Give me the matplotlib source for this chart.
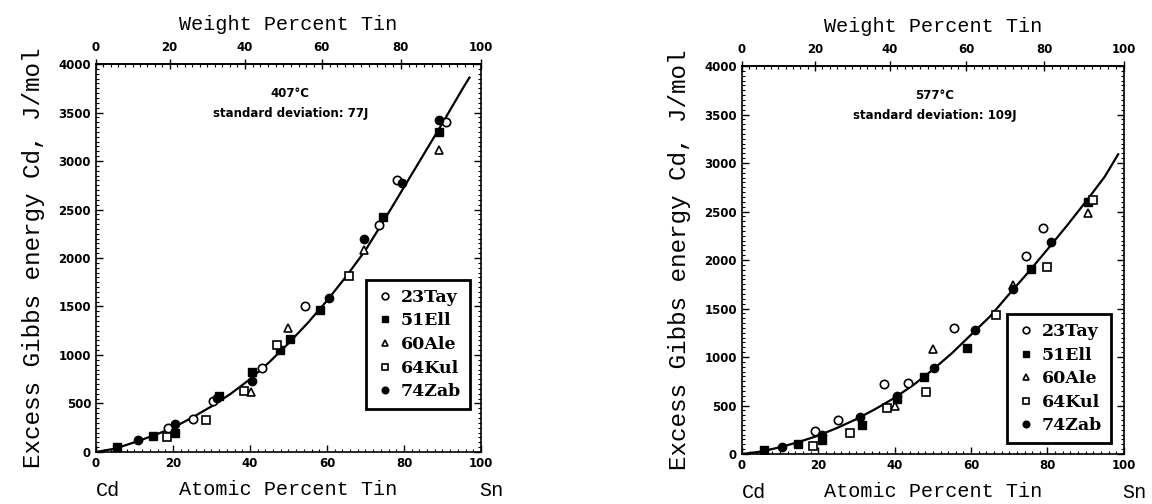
import matplotlib.pyplot as plt
from matplotlib.ticker import MultipleLocator

# fitted curves (atomic % Sn, J/mol)
curve_x_407 = [0, 5, 10, 15, 20, 25, 30, 35, 40, 45, 50, 55, 60, 65, 70, 75, 80, 85, 90, 95, 97]
curve_y_407 = [0, 35, 100, 170, 250, 355, 470, 600, 750, 925, 1120, 1330, 1560, 1810, 2080,
               2400, 2730, 3060, 3390, 3730, 3860]
curve_x_577 = [0, 5, 10, 15, 20, 25, 30, 35, 40, 45, 50, 55, 60, 65, 70, 75, 80, 85, 90, 95, 98.5]
curve_y_577 = [0, 25, 70, 125, 190, 270, 360, 465, 580, 715, 870, 1040, 1230, 1420, 1650,
               1875, 2110, 2350, 2600, 2860, 3090]

# 407 C data
tay_x_407 = [18.8, 25.3, 30.5, 43, 54.3, 73.5, 78.1, 91]
tay_y_407 = [250, 345, 525, 870, 1510, 2340, 2800, 3400]
ell_x_407 = [5.5, 14.8, 20.6, 32, 40.5, 47.8, 50.5, 58.3, 74.6, 89.2]
ell_y_407 = [50, 160, 200, 580, 820, 1050, 1165, 1460, 2420, 3300]
ale_x_407 = [40.3, 50, 69.7, 89]
ale_y_407 = [620, 1275, 2080, 3110]
kul_x_407 = [18.5, 28.6, 38.4, 47.1, 65.8]
kul_y_407 = [150, 330, 630, 1105, 1814]
zab_x_407 = [11, 20.6, 31.5, 40.6, 60.5, 69.5, 79.5, 89.2]
zab_y_407 = [125, 285, 560, 735, 1585, 2200, 2770, 3420]

# 577 C data
tay_x_577 = [19.2, 25.2, 37.2, 43.5, 55.5, 74.5, 78.7]
tay_y_577 = [240, 350, 725, 730, 1300, 2045, 2330]
ell_x_577 = [5.7, 14.8, 21, 31.4, 40.5, 47.7, 59, 75.7, 90.5]
ell_y_577 = [45, 100, 140, 300, 570, 790, 1090, 1905, 2600]
ale_x_577 = [40, 49.9, 71, 90.5]
ale_y_577 = [500, 1085, 1740, 2480]
kul_x_577 = [18.5, 28.4, 38, 48.1, 66.5, 79.9, 92]
kul_y_577 = [85, 220, 470, 640, 1435, 1930, 2620]
zab_x_577 = [10.6, 21, 30.8, 40.5, 50.3, 61, 71, 80.8]
zab_y_577 = [75, 200, 380, 600, 885, 1275, 1700, 2190]

M_SN = 118.71
M_CD = 112.41


def at2wt(x):
    return 100 * x * M_SN / (x * M_SN + (100 - x) * M_CD)


def wt2at(w):
    return 100 * (w / M_SN) / (w / M_SN + (100 - w) / M_CD)


mono = 'Liberation Mono'
tickfont = dict(family='DejaVu Sans', weight='bold', size=8.5)


def draw(ax, cx, cy, data, temp, sd, leg_anchor):
    ax.plot(cx, cy, '-', color='black', lw=1.6, zorder=2)
    tx, ty, ex, ey, axx, ay, kx, ky, zx, zy = data
    ms = 6
    ax.plot(tx, ty, 'o', ls='none', mfc='white', mec='black', mew=1.2, ms=ms, label='23Tay', zorder=3)
    ax.plot(ex, ey, 's', ls='none', mfc='black', mec='black', ms=ms - 0.5, label='51Ell', zorder=3)
    ax.plot(axx, ay, '^', ls='none', mfc='white', mec='black', mew=1.2, ms=ms, label='60Ale', zorder=3)
    ax.plot(kx, ky, 's', ls='none', mfc='white', mec='black', mew=1.2, ms=ms, label='64Kul', zorder=3)
    ax.plot(zx, zy, 'o', ls='none', mfc='black', mec='black', ms=ms, label='74Zab', zorder=3)

    ax.set_xlim(0, 100)
    ax.set_ylim(0, 4000)
    ax.xaxis.set_major_locator(MultipleLocator(20))
    ax.xaxis.set_minor_locator(MultipleLocator(2))
    ax.yaxis.set_major_locator(MultipleLocator(500))
    ax.yaxis.set_minor_locator(MultipleLocator(50))
    ax.tick_params(which='major', direction='in', length=5, width=1, right=True)
    ax.tick_params(which='minor', direction='in', length=2, width=0.8, right=True)
    for lab in ax.get_xticklabels() + ax.get_yticklabels():
        lab.set_fontproperties(tickfont)
    for s in ax.spines.values():
        s.set_linewidth(1.2)

    sec = ax.secondary_xaxis('top', functions=(at2wt, wt2at))
    sec.xaxis.set_major_locator(MultipleLocator(20))
    sec.xaxis.set_minor_locator(MultipleLocator(2))
    sec.tick_params(which='major', direction='inout', length=7, width=1)
    sec.tick_params(which='minor', direction='in', length=2, width=0.8)
    sec.spines['top'].set_linewidth(1.2)
    for lab in sec.get_xticklabels():
        lab.set_fontproperties(tickfont)
    sec.set_xlabel('Weight Percent Tin', family=mono, fontsize=14.5, labelpad=8)

    ax.set_xlabel('Atomic Percent Tin', family=mono, fontsize=14.5, labelpad=7)
    ax.set_ylabel('Excess Gibbs energy Cd, J/mol', family=mono, fontsize=17.5, labelpad=10)
    ax.text(0, -0.113, 'Cd', transform=ax.transAxes, family=mono, fontsize=14.5, va='baseline')
    ax.text(0.995, -0.113, 'Sn', transform=ax.transAxes, family=mono, fontsize=14.5, va='baseline')

    ax.text(50.5, 3700, temp, ha='center', va='center', fontsize=8.5, weight='bold')
    ax.text(50.5, 3490, 'standard deviation: ' + sd, ha='center', va='center',
            fontsize=8.5, weight='bold')

    leg = ax.legend(loc='lower right', bbox_to_anchor=leg_anchor, frameon=True, fancybox=False,
                    framealpha=1, edgecolor='black', borderpad=0.5, labelspacing=0.38,
                    handletextpad=0.3, handlelength=1.2, markerscale=0.8, borderaxespad=0,
                    prop=dict(family='DejaVu Serif', weight='bold', size=12.5))
    leg.get_frame().set_linewidth(2)


fig = plt.figure(figsize=(11.52, 5.04), dpi=100)
ax1 = fig.add_axes([0.0833, 0.1032, 0.3342, 0.7698])
ax2 = fig.add_axes([0.644, 0.0992, 0.3316, 0.7698])

draw(ax1, curve_x_407, curve_y_407,
     (tay_x_407, tay_y_407, ell_x_407, ell_y_407, ale_x_407, ale_y_407,
      kul_x_407, kul_y_407, zab_x_407, zab_y_407),
     '407\u00b0C', '77J', (0.971, 0.111))
draw(ax2, curve_x_577, curve_y_577,
     (tay_x_577, tay_y_577, ell_x_577, ell_y_577, ale_x_577, ale_y_577,
      kul_x_577, kul_y_577, zab_x_577, zab_y_577),
     '577\u00b0C', '109J', (0.966, 0.028))

fig.savefig('out.png', dpi=100)
